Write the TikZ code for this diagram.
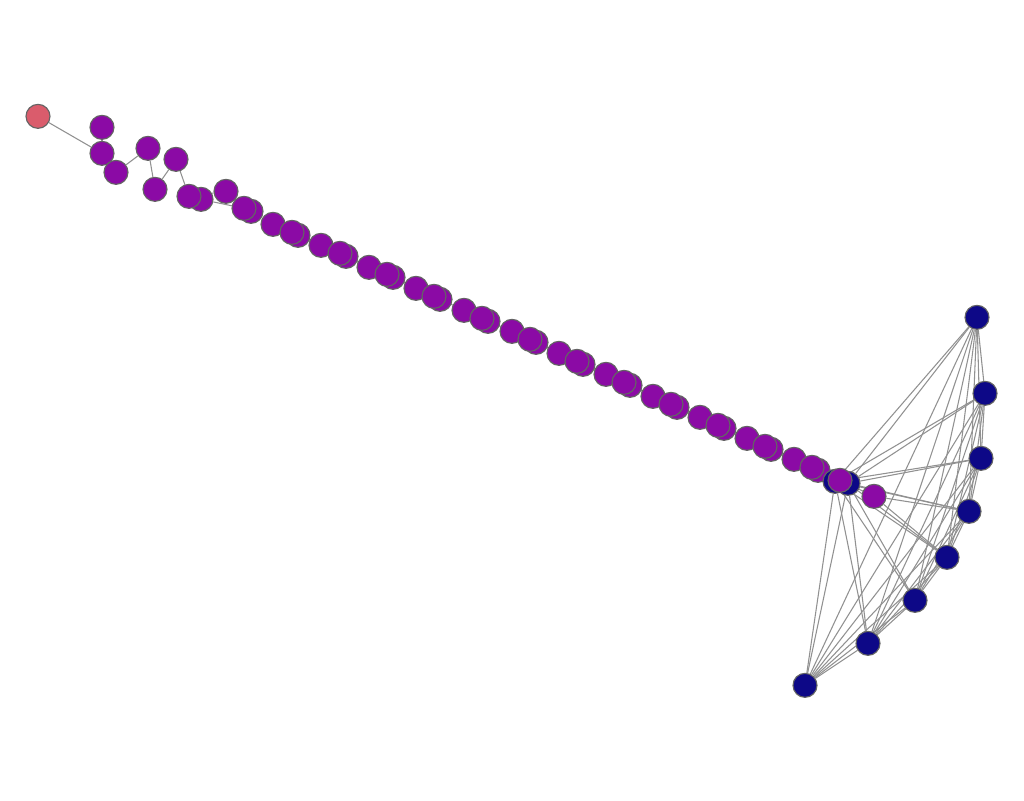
\documentclass[tikz,border=0pt]{standalone}
\usetikzlibrary{calc}
\definecolor{purp}{RGB}{139,10,165}
\definecolor{navy}{RGB}{13,8,135}
\definecolor{redn}{RGB}{218,92,108}
\definecolor{edgec}{RGB}{145,145,145}
\definecolor{bord}{RGB}{100,100,100}
\pgfdeclarelayer{bg}
\pgfsetlayers{bg,main}
\tikzset{
  vtx/.style={circle,draw=bord,line width=0.85pt,minimum size=18pt,inner sep=0pt},
  pv/.style={vtx,fill=purp},
  nv/.style={vtx,fill=navy},
  rv/.style={vtx,fill=redn},
  lnk/.style={draw=edgec,line width=0.8pt}
}
\begin{document}
\begin{tikzpicture}[x=0.75pt,y=-0.75pt]
\useasboundingbox (0,0) rectangle (1024,800);
\begin{scope}[yshift=-1]
% top-left
\node[rv] (r) at (38,115) {};
\node[pv] (a) at (102,126) {};
\node[pv] (b) at (102,152) {};
\node[pv] (c) at (116,171) {};
\node[pv] (d) at (148,147) {};
\node[pv] (e) at (155,188) {};
\node[pv] (f) at (176,158) {};
\node[pv] (g2) at (201,198) {};
\node[pv] (g1) at (189,195) {};
\node[pv] (h) at (226,190) {};
\node[pv] (i2) at (251,210) {};
\node[pv] (i1) at (244,207) {};
% chain
\node[pv] (s1) at (273,223) {};
\node[pv] (p1b) at (298,234) {};
\node[pv] (p1a) at (292,231) {};
\node[pv] (s2) at (321,244) {};
\node[pv] (p2b) at (346,255) {};
\node[pv] (p2a) at (340,252) {};
\node[pv] (s3) at (369,266) {};
\node[pv] (p3b) at (393,276) {};
\node[pv] (p3a) at (387,273) {};
\node[pv] (s4) at (416,287) {};
\node[pv] (p4b) at (440,298) {};
\node[pv] (p4a) at (434,295) {};
\node[pv] (s5) at (464,309) {};
\node[pv] (p5b) at (488,320) {};
\node[pv] (p5a) at (482,317) {};
\node[pv] (s6) at (512,330) {};
\node[pv] (p6b) at (536,341) {};
\node[pv] (p6a) at (530,338) {};
\node[pv] (s7) at (559,352) {};
\node[pv] (p7b) at (583,363) {};
\node[pv] (p7a) at (577,360) {};
\node[pv] (s8) at (606,373) {};
\node[pv] (p8b) at (630,384) {};
\node[pv] (p8a) at (624,381) {};
\node[pv] (s9) at (653,395) {};
\node[pv] (p9b) at (677,406) {};
\node[pv] (p9a) at (671,403) {};
\node[pv] (s10) at (700,416) {};
\node[pv] (p10b) at (724,427) {};
\node[pv] (p10a) at (718,424) {};
\node[pv] (s11) at (747,437) {};
\node[pv] (p11b) at (771,448) {};
\node[pv] (p11a) at (765,445) {};
\node[pv] (s12) at (794,458) {};
\node[pv] (p12b) at (818,469) {};
\node[pv] (p12a) at (812,466) {};
% junction
\node[nv] (j2) at (848,482) {};
\node[nv] (j1) at (835,480) {};
\node[pv] (jp) at (840,479) {};
\node[pv] (pp) at (874,495) {};
% right cluster
\node[nv] (n1) at (977,316) {};
\node[nv] (n2) at (985,392) {};
\node[nv] (n3) at (981,457) {};
\node[nv] (n4) at (969,510) {};
\node[nv] (n5) at (947,556) {};
\node[nv] (n6) at (915,599) {};
\node[nv] (n7) at (868,642) {};
\node[nv] (n8) at (805,684) {};
\begin{pgfonlayer}{bg}
\draw[lnk] (r) -- (b);
\draw[lnk] (a) -- (b);
\draw[lnk] (b) -- (c);
\draw[lnk] (c) -- (d);
\draw[lnk] (d) -- (e);
\draw[lnk] (e) -- (f);
\draw[lnk] (f) -- (g1);
\draw[lnk] (g2) -- (i1);
\draw[lnk] (g1) -- (h);
\draw[lnk] (h) -- (i1);
\draw[lnk] (i2) -- (s1) -- (p1a) -- (s2) -- (p2a) -- (s3) -- (p3a) -- (s4) -- (p4a) -- (s5) -- (p5a) -- (s6) -- (p6a) -- (s7) -- (p7a) -- (s8) -- (p8a) -- (s9) -- (p9a) -- (s10) -- (p10a) -- (s11) -- (p11a) -- (s12) -- (p12a) -- (jp) -- (pp);
\foreach \u/\v in {j1/j2,j1/n1,j1/n2,j1/n3,j1/n4,j1/n5,j1/n6,j1/n7,j1/n8,
  j2/n1,j2/n2,j2/n3,j2/n4,j2/n5,j2/n6,j2/n7,j2/n8,
  n1/n2,n1/n3,n1/n4,n1/n5,n1/n6,n1/n7,n1/n8,
  n2/n3,n2/n4,n2/n5,n2/n6,n2/n7,n2/n8,
  n3/n4,n3/n5,n3/n6,n3/n7,n3/n8,
  n4/n5,n4/n6,n4/n7,n4/n8,
  n5/n6,n5/n7,n5/n8,
  n6/n7,n6/n8,
  n7/n8,
  pp/n4,pp/n5}
  \draw[lnk] (\u) -- (\v);
\end{pgfonlayer}
\end{scope}
\end{tikzpicture}
\end{document}
